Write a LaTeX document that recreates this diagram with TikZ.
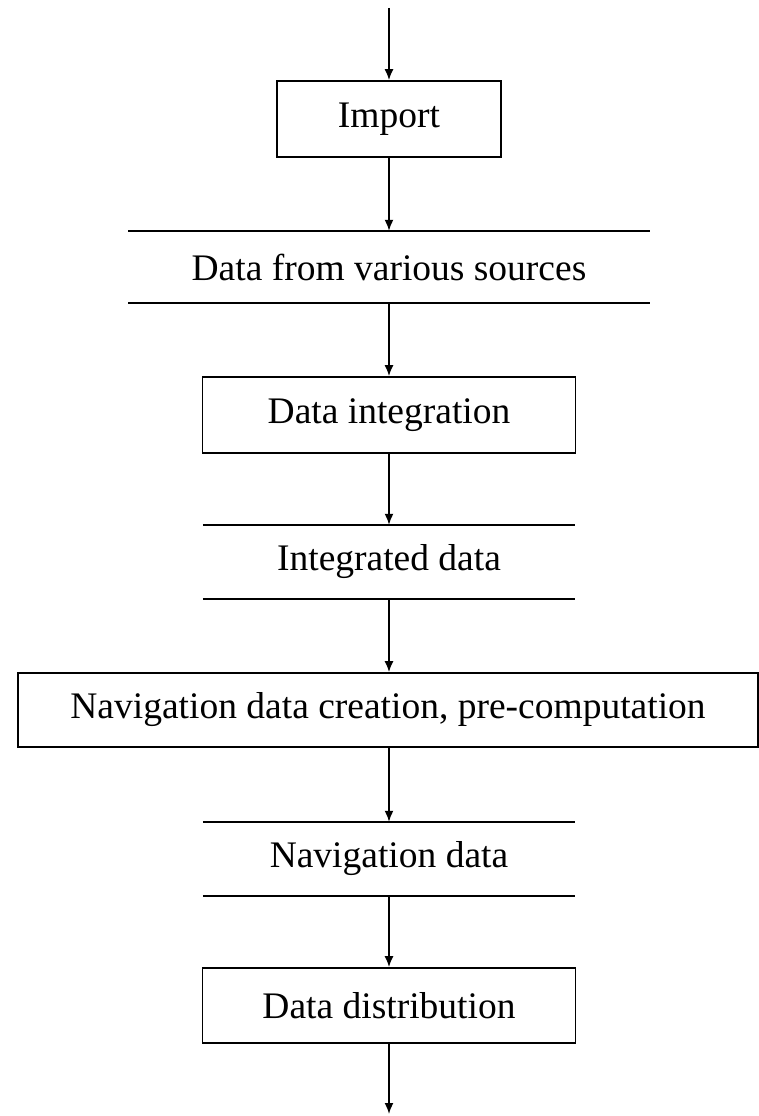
\documentclass[tikz,border=0pt]{standalone}
\usepackage{fontspec}
\setmainfont{Liberation Serif}
\usetikzlibrary{arrows.meta}
\begin{document}
\begin{tikzpicture}[x=1pt,y=-1pt,
  every node/.style={font=\fontsize{37.5}{45}\selectfont, inner sep=0pt},
  process/.style={draw, line width=1.7pt, minimum height=76pt},
  store/.style={minimum height=73pt},
  rule/.style={line width=1.7pt},
  flow/.style={-{Latex[length=11pt,width=9pt]}, line width=1.7pt}]
\useasboundingbox (0,0) rectangle (759,1116);

% entry and exit points of the pipeline
\coordinate (in)  at (389,8);
\coordinate (out) at (389,1114);

% processes and data stores
\node[process, minimum width=224pt] (import) at (389,119) {Import};
\node[store, minimum width=521pt, minimum height=72pt] (src) at (389,267) {Data from various sources};
\node[process, minimum width=373pt] (integ) at (389,415) {Data integration};
\node[store, minimum width=372pt, minimum height=74pt] (intdata) at (389,562) {Integrated data};
\node[process, minimum width=740pt, minimum height=74pt] (nav) at (388,710) {Navigation data creation, pre-computation};
\node[store, minimum width=372pt, minimum height=74pt] (navdata) at (389,859) {Navigation data};
\node[process, minimum width=373pt, minimum height=75pt] (dist) at (389,1005.5) {Data distribution};

% data stores: a line above and below the label
\foreach \s in {src,intdata,navdata}{
  \draw[rule] (\s.north west) -- (\s.north east);
  \draw[rule] (\s.south west) -- (\s.south east);
}

% flow arrows
\draw[flow] (in) -- (import.north);
\draw[flow] (import.south) -- (src.north);
\draw[flow] (src.south) -- (integ.north);
\draw[flow] (integ.south) -- (intdata.north);
\draw[flow] (intdata.south) -- (nav.north -| intdata.south);
\draw[flow] (nav.south -| navdata.north) -- (navdata.north);
\draw[flow] (navdata.south) -- (dist.north);
\draw[flow] (dist.south) -- (out);
\end{tikzpicture}
\end{document}
